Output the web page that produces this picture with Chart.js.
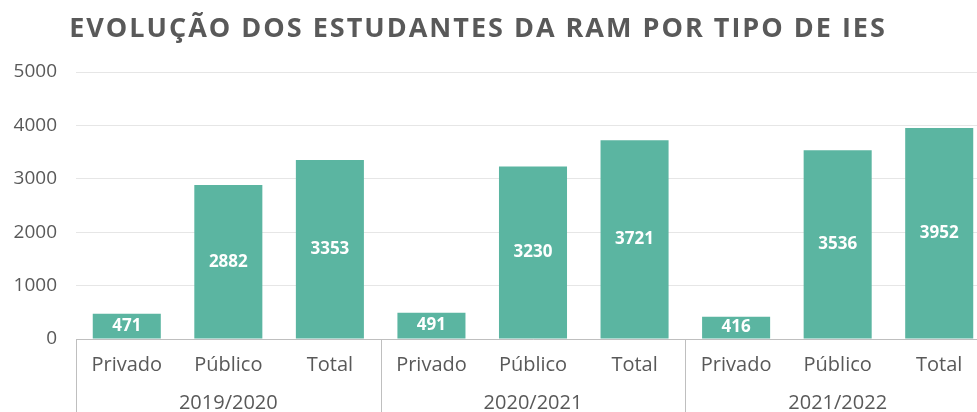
<!DOCTYPE html>
<html>
<head>
<meta charset="utf-8">
<script src="https://cdn.jsdelivr.net/npm/chart.js@4"></script>
<style>
  html, body { margin: 0; padding: 0; background: #fff; overflow: hidden; }
  #wrap { width: 990px; height: 412px; }
</style>
</head>
<body>
<div id="wrap"><canvas id="graph"></canvas></div>
<script>
const titleText = 'EVOLUÇÃO DOS ESTUDANTES DA RAM POR TIPO DE IES';
const anos = ['2019/2020', '2020/2021', '2021/2022'];
const tipos = ['Privado', 'Público', 'Total'];
const estudantes = [471, 2882, 3353, 491, 3230, 3721, 416, 3536, 3952];
const yTicks = [0, 1000, 2000, 3000, 4000, 5000];

const labelsList = [];
anos.forEach(() => tipos.forEach(t => labelsList.push(t)));

const textColor = '#595959';
const ctx = document.getElementById('graph');

// title drawn by hand so it can have letter spacing
const titlePlugin = {
  id: 'spacedTitle',
  afterDraw(chart) {
    const c = chart.ctx;
    c.save();
    c.font = 'bold 27px "Open Sans"';
    c.fillStyle = textColor;
    c.textAlign = 'center';
    c.textBaseline = 'middle';
    c.letterSpacing = '2px';
    c.fillText(titleText, 478, 29);
    c.restore();
  }
};

// white value inside each bar
const valuePlugin = {
  id: 'barValues',
  afterDatasetsDraw(chart) {
    const c = chart.ctx;
    const meta = chart.getDatasetMeta(0);
    c.save();
    c.font = 'bold 17px "Open Sans"';
    c.fillStyle = '#ffffff';
    c.textAlign = 'center';
    c.textBaseline = 'middle';
    meta.data.forEach((bar, i) => {
      c.fillText(String(estudantes[i]), bar.x, (bar.y + bar.base) / 2);
    });
    c.restore();
  }
};

// group labels and separators under the category axis
const groupPlugin = {
  id: 'groups',
  afterDraw(chart) {
    const c = chart.ctx;
    const x = chart.scales.x;
    const area = chart.chartArea;
    const n = tipos.length;
    const half = (x.getPixelForValue(1) - x.getPixelForValue(0)) / 2;
    c.save();
    c.strokeStyle = '#bfbfbf';
    c.lineWidth = 1;
    for (let g = 0; g <= anos.length; g++) {
      const idx = Math.min(g * n, labelsList.length - 1);
      let px = x.getPixelForValue(idx) - half;
      if (g === anos.length) px = x.getPixelForValue(idx) + half;
      px = Math.round(px) + 0.5;
      c.beginPath();
      c.moveTo(px, area.bottom);
      c.lineTo(px, chart.height);
      c.stroke();
    }
    c.font = '20px "Open Sans"';
    c.fillStyle = textColor;
    c.textAlign = 'center';
    c.textBaseline = 'middle';
    anos.forEach((a, g) => {
      const mid = (x.getPixelForValue(g * n) + x.getPixelForValue(g * n + n - 1)) / 2;
      c.fillText(a, mid, 403);
    });
    c.restore();
  }
};

new Chart(ctx, {
  type: 'bar',
  data: {
    labels: labelsList,
    datasets: [{
      label: 'Estudantes',
      data: estudantes,
      backgroundColor: '#5bb5a1',
      barPercentage: 0.67,
      categoryPercentage: 1
    }]
  },
  options: {
    responsive: true,
    maintainAspectRatio: false,
    animation: false,
    layout: { padding: { top: 72, bottom: 29, left: 13, right: 0 } },
    plugins: {
      legend: { display: false },
      tooltip: { enabled: false },
      title: { display: false }
    },
    scales: {
      x: {
        grid: { display: false },
        border: { display: true, color: '#bfbfbf' },
        ticks: { color: textColor, font: { family: 'Open Sans', size: 20 }, padding: 6, maxRotation: 0 },
        afterFit(scale) { scale.paddingLeft = 0; scale.paddingRight = 0; }
      },
      y: {
        min: 0,
        max: 5000,
        afterBuildTicks(scale) { scale.ticks = yTicks.map(v => ({ value: v })); },
        afterFit(scale) { scale.width = 63; },
        grid: { color: '#e6e6e6', drawTicks: false },
        border: { display: false },
        ticks: {
          color: textColor,
          font: { family: 'Open Sans', size: 19 },
          padding: 19,
          callback: v => String(v)
        }
      }
    }
  },
  plugins: [titlePlugin, valuePlugin, groupPlugin]
});
</script>
</body>
</html>
